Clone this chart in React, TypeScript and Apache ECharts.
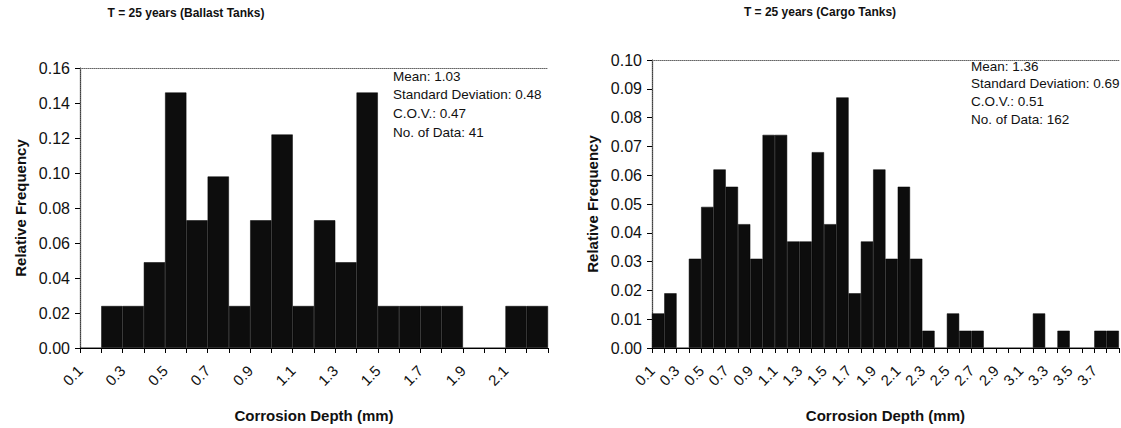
import React, { useEffect, useRef } from "react";
import * as echarts from "echarts";

// ---------- data ----------
const ballastBins = ["0.1-0.2","0.2-0.3","0.3-0.4","0.4-0.5","0.5-0.6","0.6-0.7","0.7-0.8","0.8-0.9","0.9-1.0","1.0-1.1","1.1-1.2","1.2-1.3","1.3-1.4","1.4-1.5","1.5-1.6","1.6-1.7","1.7-1.8","1.8-1.9","1.9-2.0","2.0-2.1","2.1-2.2","2.2-2.3"];
const ballastFreq = [0, 0.024, 0.024, 0.049, 0.146, 0.073, 0.098, 0.024, 0.073, 0.122, 0.024, 0.073, 0.049, 0.146, 0.024, 0.024, 0.024, 0.024, 0, 0, 0.024, 0.024];
const ballastTickLabels = ["0.1","0.3","0.5","0.7","0.9","1.1","1.3","1.5","1.7","1.9","2.1"];
const ballastStats = ["Mean: 1.03", "Standard Deviation: 0.48", "C.O.V.: 0.47", "No. of Data: 41"];

const cargoBins = ["0.1","0.2","0.3","0.4","0.5","0.6","0.7","0.8","0.9","1.0","1.1","1.2","1.3","1.4","1.5","1.6","1.7","1.8","1.9","2.0","2.1","2.2","2.3","2.4","2.5","2.6","2.7","2.8","2.9","3.0","3.1","3.2","3.3","3.4","3.5","3.6","3.7","3.8"];
const cargoFreq = [0.012, 0.019, 0, 0.031, 0.049, 0.062, 0.056, 0.043, 0.031, 0.074, 0.074, 0.037, 0.037, 0.068, 0.043, 0.087, 0.019, 0.037, 0.062, 0.031, 0.056, 0.031, 0.006, 0, 0.012, 0.006, 0.006, 0, 0, 0, 0, 0.012, 0, 0.006, 0, 0, 0.006, 0.006];
const cargoTickLabels = ["0.1","0.3","0.5","0.7","0.9","1.1","1.3","1.5","1.7","1.9","2.1","2.3","2.5","2.7","2.9","3.1","3.3","3.5","3.7"];
const cargoStats = ["Mean: 1.36", "Standard Deviation: 0.69", "C.O.V.: 0.51", "No. of Data: 162"];

const titles = ["T = 25 years (Ballast Tanks)", "T = 25 years (Cargo Tanks)"];
const xName = "Corrosion Depth (mm)";
const yName = "Relative Frequency";

const FONT = "'Liberation Sans', Arial, sans-serif";
const INK = "#111";

export default function App() {
  const ref = useRef<HTMLDivElement>(null);
  useEffect(() => {
    if (!ref.current) return;
    const chart = echarts.init(ref.current, undefined, { renderer: "svg" });

    const grids = [
      { left: 80, top: 68, width: 468, height: 285 },
      { left: 652, top: 60, width: 471, height: 300 },
    ];
    const sets = [
      { bins: ballastBins, freq: ballastFreq, labels: ballastTickLabels, max: 0.16, interval: 0.02 },
      { bins: cargoBins, freq: cargoFreq, labels: cargoTickLabels, max: 0.1, interval: 0.01 },
    ];

    const xAxis: any[] = [];
    const yAxis: any[] = [];
    const series: any[] = [];
    sets.forEach((s, g) => {
      const n = s.bins.length;
      const base = xAxis.length;
      xAxis.push({
        type: "category", gridIndex: g, data: s.bins, boundaryGap: true, position: "bottom",
        axisLine: { show: true, lineStyle: { color: "#000", width: 1.2 } },
        axisTick: { show: true, length: 5, interval: 0, lineStyle: { color: "#000" } },
        axisLabel: { show: false },
        splitLine: { show: false },
        name: xName, nameLocation: "middle", nameGap: 60,
        nameTextStyle: { fontFamily: FONT, fontWeight: "bold", fontSize: 15, color: INK },
      });
      xAxis.push({
        type: "value", gridIndex: g, min: 0, max: n, interval: 2, position: "bottom",
        axisLine: { show: false }, axisTick: { show: false }, splitLine: { show: false },
        axisLabel: {
          show: true, rotate: 45, margin: 20, fontFamily: FONT, fontSize: 15, color: INK,
          formatter: (v: number) => s.labels[Math.round(v / 2)] ?? "",
        },
      });
      xAxis.push({
        type: "value", gridIndex: g, min: 0, max: n, position: "top",
        axisLine: { show: true, lineStyle: { color: "#666", type: "dotted", width: 1 } },
        axisTick: { show: false }, axisLabel: { show: false }, splitLine: { show: false },
      });
      const ybase = yAxis.length;
      yAxis.push({
        type: "value", gridIndex: g, min: 0, max: s.max, interval: s.interval, position: "left",
        axisLine: { show: true, lineStyle: { color: "#000", width: 1.2 } },
        axisTick: { show: true, length: 5, lineStyle: { color: "#000" } },
        splitLine: { show: false },
        axisLabel: { fontFamily: FONT, fontSize: 16, color: INK, margin: 10, formatter: (v: number) => v.toFixed(2) },
        name: yName, nameLocation: "middle", nameGap: 52,
        nameTextStyle: { fontFamily: FONT, fontWeight: "bold", fontSize: 15, color: INK },
      });
      yAxis.push({
        type: "value", gridIndex: g, min: 0, max: s.max, position: "right",
        axisLine: { show: true, lineStyle: { color: "#666", type: "dotted", width: 1 } },
        axisTick: { show: false }, axisLabel: { show: false }, splitLine: { show: false },
      });
      series.push({
        type: "bar", xAxisIndex: base, yAxisIndex: ybase, data: s.freq,
        barWidth: "100%", barCategoryGap: 0,
        itemStyle: { color: "#0d0d0d", borderColor: "#000", borderWidth: 0.5 },
        silent: true,
      });
    });

    const statsText = (lines: string[], x: number, y0: number, dy: number) =>
      lines.map((t, i) => ({
        type: "text", x, y: y0 + i * dy,
        style: { text: t, fontFamily: FONT, fontSize: 13.5, fill: INK, textVerticalAlign: "middle" },
      }));

    chart.setOption({
      animation: false,
      backgroundColor: "#fff",
      grid: grids,
      xAxis, yAxis, series,
      graphic: [
        { type: "text", x: 186, y: 13, style: { text: titles[0], fontFamily: FONT, fontWeight: "bold", fontSize: 12, fill: INK, textAlign: "center", textVerticalAlign: "middle" } },
        { type: "text", x: 820, y: 12, style: { text: titles[1], fontFamily: FONT, fontWeight: "bold", fontSize: 12, fill: INK, textAlign: "center", textVerticalAlign: "middle" } },
        ...statsText(ballastStats, 393, 76, 18.7),
        ...statsText(cargoStats, 971, 66, 17.7),
      ],
    });
    return () => chart.dispose();
  }, []);
  return <div ref={ref} style={{ position: "absolute", left: 0, top: 0, width: 1121, height: 428 }} />;
}
